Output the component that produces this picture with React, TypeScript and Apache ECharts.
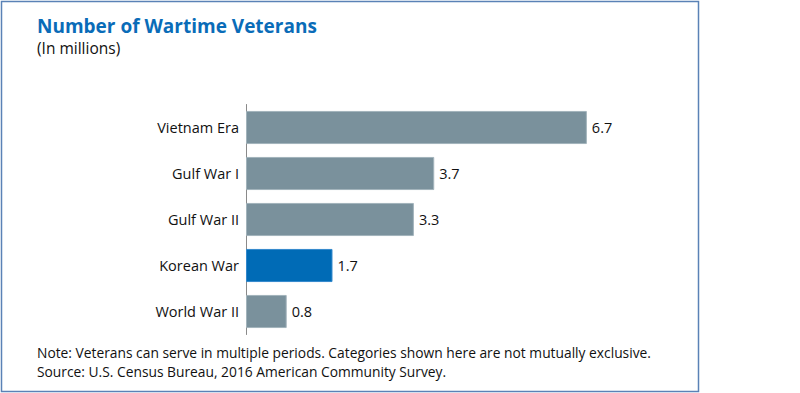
import React, { useEffect, useRef } from "react";
import * as echarts from "echarts";

const categories = ["World War II", "Korean War", "Gulf War II", "Gulf War I", "Vietnam Era"];
const values = [0.8, 1.7, 3.3, 3.7, 6.7];
const highlighted = "Korean War";

const titleText = "Number of Wartime Veterans";
const subtitleText = "(In millions)";
const noteLines = [
  "Note: Veterans can serve in multiple periods. Categories shown here are not mutually exclusive.",
  "Source: U.S. Census Bureau, 2016 American Community Survey.",
];

const FONT = "'Open Sans', 'Noto Sans', sans-serif";

export default function App() {
  const ref = useRef<HTMLDivElement>(null);
  useEffect(() => {
    document.body.style.margin = "0";
    const chart = echarts.init(ref.current!, null, { renderer: "svg" });
    chart.setOption({
      animation: false,
      backgroundColor: "#ffffff",
      textStyle: { fontFamily: FONT },
      grid: { left: 246, right: 147, top: 104.5, height: 230, containLabel: false },
      xAxis: {
        type: "value",
        min: 0,
        max: 8,
        show: false,
      },
      yAxis: {
        type: "category",
        data: categories,
        axisLine: { show: true, lineStyle: { color: "#8a8a8a", width: 1 } },
        axisTick: { show: false },
        axisLabel: { color: "#111111", fontSize: 14.5, fontFamily: FONT, margin: 7 },
      },
      series: [
        {
          type: "bar",
          barCategoryGap: "28%",
          data: categories.map((c, i) => ({
            value: values[i],
            itemStyle: {
              color: c === highlighted ? "#006bb6" : "#7a919c",
              borderColor: c === highlighted ? "#3388cc" : "#a2b3bb",
              borderWidth: 1,
            },
          })),
          label: {
            show: true,
            position: "right",
            distance: 5,
            color: "#111111",
            fontSize: 14.5,
            fontFamily: FONT,
            formatter: (p: any) => p.value.toFixed(1),
          },
        },
      ],
      graphic: [
        {
          type: "rect",
          shape: { x: 1.5, y: 1.5, width: 697, height: 390 },
          style: { fill: "none", stroke: "#5a82b6", lineWidth: 1.5 },
          silent: true,
        },
        {
          type: "text",
          left: 37,
          top: 16,
          style: { text: titleText, fill: "#0a6cb8", font: `bold 19px ${FONT}` },
        },
        {
          type: "text",
          left: 37,
          top: 40,
          style: { text: subtitleText, fill: "#111111", font: `15.5px ${FONT}` },
        },
        {
          type: "text",
          left: 37,
          top: 343,
          style: {
            text: noteLines.join("\n"),
            fill: "#111111",
            font: `13.8px ${FONT}`,
            lineHeight: 19,
          },
        },
      ],
    });
    return () => chart.dispose();
  }, []);
  return <div ref={ref} style={{ width: 800, height: 393 }} />;
}
